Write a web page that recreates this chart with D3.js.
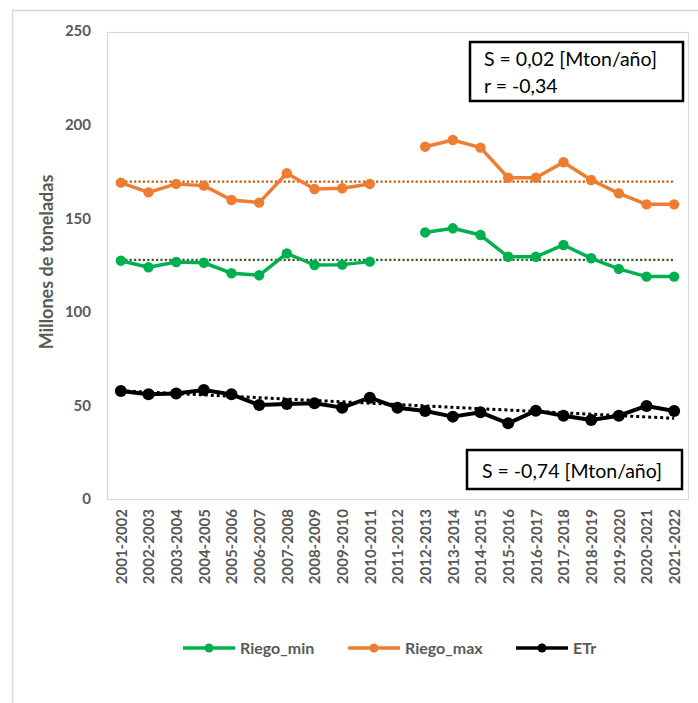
<!DOCTYPE html>
<html><head><meta charset="utf-8">
<script src="https://cdn.jsdelivr.net/npm/d3@7"></script>
<style>body{margin:0;background:#fff}svg{display:block}text{font-family:Lato,"Open Sans",sans-serif}</style>
</head><body><svg id="c" width="698" height="703"></svg>
<script>
const categories = ["2001-2002","2002-2003","2003-2004","2004-2005","2005-2006","2006-2007","2007-2008","2008-2009","2009-2010","2010-2011","2011-2012","2012-2013","2013-2014","2014-2015","2015-2016","2016-2017","2017-2018","2018-2019","2019-2020","2020-2021","2021-2022"];
const riegoMin = [127.3,123.8,126.6,126.2,120.6,119.5,131.2,125.0,125.2,126.8,null,142.4,144.6,141.0,129.4,129.4,135.7,128.6,122.9,118.8,118.8];
const riegoMax = [169.0,163.8,168.3,167.4,159.7,158.3,174.0,165.6,166.0,168.3,null,188.2,191.8,187.7,171.6,171.6,179.9,170.4,163.3,157.4,157.4];
const etr = [57.7,55.9,56.4,58.2,55.9,50.2,50.7,51.1,48.8,54.1,48.8,47.0,44.0,46.3,40.4,47.2,44.5,42.2,44.5,49.7,47.0];
// trend line endpoint values (first and last category)
const trendMin = [127.7,127.7];
const trendMax = [169.5,169.5];
const trendEtr = [57.8,43.1];
const yTicks = [0,50,100,150,200,250];
const seriesNames = ["Riego_min","Riego_max","ETr"];
const boxTop = ["S = 0,02 [Mton/año]","r = -0,34"];
const boxBottom = ["S = -0,74 [Mton/año]"];

const svg = d3.select("#c");
svg.append("rect").attr("width",698).attr("height",703).attr("fill","#fff");
// outer frame
svg.append("path").attr("d","M12.5,703 V10.5 H698").attr("fill","none").attr("stroke","#d9d9d9").attr("stroke-width",1.5);

const L=107,T=32,R=688,B=499;
const x = d3.scalePoint().domain(categories).range([L,R]).padding(0.5);
const y = d3.scaleLinear().domain([0,250]).range([B,31]);

svg.append("rect").attr("x",L+0.5).attr("y",T+0.5).attr("width",R-L).attr("height",B-T)
  .attr("fill","none").attr("stroke","#d9d9d9").attr("stroke-width",1.2);

const grey="#595959";
// y axis
const ya = svg.append("g").attr("transform",`translate(${L},0)`)
  .call(d3.axisLeft(y).tickValues(yTicks).tickSize(0).tickPadding(16));
ya.select(".domain").remove();
ya.selectAll("text").attr("font-size",15).attr("font-weight","bold").attr("fill",grey).attr("font-family","Lato");

// x axis
const xa = svg.append("g").attr("transform",`translate(0,${B})`)
  .call(d3.axisBottom(x).tickSize(0));
xa.select(".domain").remove();
xa.selectAll("text").attr("font-size",15).attr("font-weight","bold").attr("fill",grey).attr("font-family","Lato")
  .attr("text-anchor","end").attr("transform","rotate(-90)").attr("x",-10).attr("y",0).attr("dy","0.36em");

// y title
svg.append("text").attr("transform","translate(53,262) rotate(-90)").attr("text-anchor","middle")
  .attr("font-size",18).attr("font-weight","bold").attr("fill",grey).text("Millones de toneladas");

const colors = {"Riego_min":"#00B050","Riego_max":"#ED7D31","ETr":"#000000"};
const trendColors = {"Riego_min":"#3B5A25","Riego_max":"#C55A11","ETr":"#000000"};
const data = {"Riego_min":riegoMin,"Riego_max":riegoMax,"ETr":etr};
const trends = {"Riego_min":trendMin,"Riego_max":trendMax,"ETr":trendEtr};
const first = categories[0], last = categories[categories.length-1];

// trend lines
seriesNames.forEach(n=>{
  const t = trends[n];
  const isE = n==="ETr";
  svg.append("line").attr("x1",x(first)).attr("x2",x(last)).attr("y1",y(t[0])).attr("y2",y(t[1]))
    .attr("stroke",trendColors[n]).attr("stroke-width",isE?3:2.2)
    .attr("stroke-dasharray",isE?"3,3":"2.2,2.2");
});

const line = d3.line().defined(d=>d.v!=null).x(d=>x(d.c)).y(d=>y(d.v));
seriesNames.forEach(n=>{
  const pts = categories.map((c,i)=>({c:c,v:data[n][i]}));
  const isE = n==="ETr";
  svg.append("path").datum(pts).attr("d",line).attr("fill","none").attr("stroke",colors[n])
    .attr("stroke-width",isE?4:3.5).attr("stroke-linejoin","round");
  svg.append("g").selectAll("circle").data(pts.filter(d=>d.v!=null)).join("circle")
    .attr("cx",d=>x(d.c)).attr("cy",d=>y(d.v)).attr("r",isE?6:5.2).attr("fill",colors[n]);
});

// text boxes
function box(x0,y0,w,h,lines,tx,ty,lh){
  lh = lh||0;
  svg.append("rect").attr("x",x0).attr("y",y0).attr("width",w).attr("height",h)
    .attr("fill","#fff").attr("stroke","#000").attr("stroke-width",2.5);
  lines.forEach((s,i)=>svg.append("text").attr("x",tx).attr("y",ty+i*lh).attr("font-size",19.5)
    .attr("fill","#000").text(s));
}
box(470,42,213,59,boxTop,484,65.5,27);
box(467,450,215,39,boxBottom,482,477.5);

// legend
const legX = [183,348,516];
seriesNames.forEach((n,i)=>{
  const g = svg.append("g").attr("transform",`translate(${legX[i]},648)`);
  g.append("line").attr("x1",0).attr("x2",52).attr("stroke",colors[n]).attr("stroke-width",3.5);
  g.append("circle").attr("cx",26).attr("r",4.5).attr("fill",colors[n]);
  g.append("text").attr("x",57).attr("dy","0.35em").attr("font-size",16).attr("font-weight","bold")
    .attr("fill",grey).text(n);
});
</script></body></html>
